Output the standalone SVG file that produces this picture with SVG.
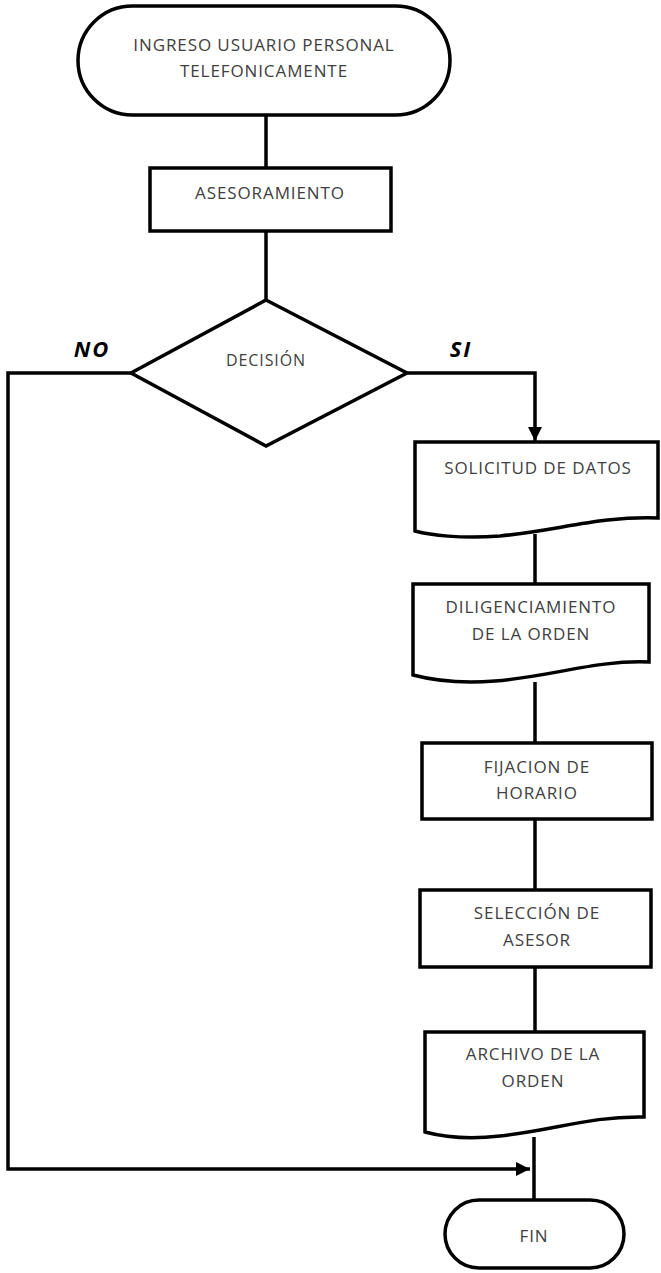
<svg xmlns="http://www.w3.org/2000/svg" width="661" height="1273" viewBox="0 0 661 1273">
<style>
.shape{fill:#fff;stroke:#000;stroke-width:3.5;stroke-linejoin:miter}
.line{fill:none;stroke:#000;stroke-width:3.5}
.t{font-family:"Open Sans","Liberation Sans",sans-serif;font-size:17px;letter-spacing:0.9px;fill:#404040;text-anchor:middle}
.lbl{font-family:"Open Sans","Liberation Sans",sans-serif;font-size:22px;letter-spacing:2px;font-weight:bold;font-style:italic;fill:#000;text-anchor:middle}
</style>
<defs>
<marker id="arr" viewBox="0 0 10 10" refX="10" refY="5" markerWidth="4" markerHeight="4" markerUnits="strokeWidth" orient="auto">
<path d="M0,0 L10,5 L0,10 Z" fill="#000"/>
</marker>
</defs>
<g id="connectors">
<path class="line" d="M266,115 V168"/>
<path class="line" d="M266,231 V300"/>
<path class="line" d="M407,373 H535 V441" marker-end="url(#arr)"/>
<path class="line" d="M131,373 H8 V1169 H530" marker-end="url(#arr)"/>
<path class="line" d="M535,534 V584"/>
<path class="line" d="M535,682 V743"/>
<path class="line" d="M535,819 V890"/>
<path class="line" d="M535,967 V1032"/>
<path class="line" d="M534,1137 V1200"/>
</g>
<g id="inicio">
<rect class="shape" x="78" y="6" width="372" height="109" rx="54.5"/>
<text class="t" x="264" y="51">INGRESO USUARIO PERSONAL</text>
<text class="t" x="264" y="77">TELEFONICAMENTE</text>
</g>
<g id="asesoramiento">
<rect class="shape" x="150" y="168" width="241" height="63"/>
<text class="t" x="270" y="199">ASESORAMIENTO</text>
</g>
<g id="decision">
<path class="shape" d="M266,300 L407,373 L266,446 L131,373 Z"/>
<text class="t" x="266" y="366" style="font-size:16px">DECISIÓN</text>
<text class="lbl" x="92" y="357">NO</text>
<text class="lbl" x="461" y="357">SI</text>
</g>
<g id="solicitud">
<path class="shape" d="M415,442 H658 V518 C600,516 560,530 500,536 C460,539 430,535 415,531 Z"/>
<text class="t" x="538" y="474">SOLICITUD DE DATOS</text>
</g>
<g id="diligenciamiento">
<path class="shape" d="M413,584 H649 V662 C595,660 555,676 495,681 C455,684 428,679 413,675 Z"/>
<text class="t" x="531" y="613">DILIGENCIAMIENTO</text>
<text class="t" x="531" y="640">DE LA ORDEN</text>
</g>
<g id="fijacion">
<rect class="shape" x="422" y="743" width="230" height="76"/>
<text class="t" x="537" y="773">FIJACION DE</text>
<text class="t" x="537" y="799">HORARIO</text>
</g>
<g id="seleccion">
<rect class="shape" x="420" y="890" width="231" height="77"/>
<text class="t" x="537" y="919">SELECCIÓN DE</text>
<text class="t" x="537" y="946">ASESOR</text>
</g>
<g id="archivo">
<path class="shape" d="M425,1032 H644 V1117 C590,1116 555,1130 500,1136 C465,1140 440,1136 425,1132 Z"/>
<text class="t" x="533" y="1060">ARCHIVO DE LA</text>
<text class="t" x="533" y="1087">ORDEN</text>
</g>
<g id="fin">
<rect class="shape" x="445" y="1200" width="179" height="68" rx="34"/>
<text class="t" x="534" y="1242">FIN</text>
</g>
</svg>
